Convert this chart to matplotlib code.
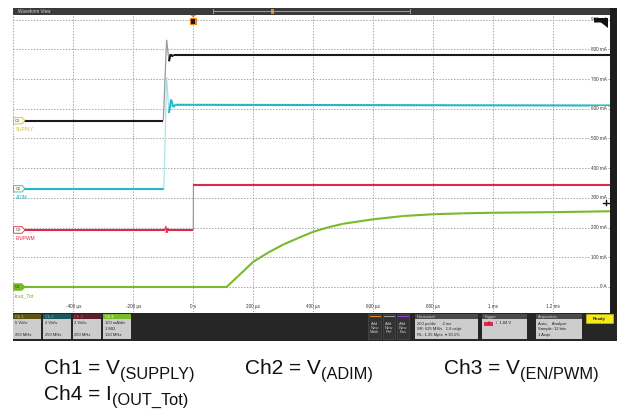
import matplotlib
matplotlib.use('Agg')
import matplotlib.pyplot as plt
from matplotlib.patches import Rectangle, Polygon
from matplotlib.collections import LineCollection
import numpy as np

plt.rcParams['font.family'] = ['Liberation Sans', 'DejaVu Sans']

# ---- data ----
# time in microseconds
t_supply = [-600, -100, -89, -81, -76, -72, -65, 1390]
v_supply = [0.0, 0.0, 13.6, 10.0, 11.2, 10.8, 11.1, 11.1]          # V

t_adim = [-600, -98, -89, -81, -74, -67, -60, 1390]
v_adim = [0.0, 0.0, 7.5, 5.1, 6.0, 5.5, 5.65, 5.6]                  # V

t_en = [-600, -93, -91, -89, -87, -84, 0, 0.5, 1390]
v_en = [0.0, 0.0, 0.25, -0.2, 0.1, 0.0, 0.0, 3.0, 3.0]              # V

t_iout = [-600, 111, 150, 200, 250, 300, 350, 400, 450, 500, 600, 700, 800, 900, 1000, 1200, 1390]
i_iout = [0, 0, 37, 85, 116, 143, 165, 186, 201, 213, 228, 239, 245, 248, 250, 252, 255]  # mA

# channel setup: units per division and ground marker position (divisions)
ch_scale = [5, 2, 2, 100]
ch_offset = [5.6, 3.31, 1.92, 0.0]
ch_color = ['#1a1a1a', '#22b8c4', '#e0284a', '#7ab929']
ch_edge = ['#9a9a9a', '#a8e4ea', '#9a9a9a', '#7ab929']
ch_label = ['SUPPLY', 'ADIM', 'EN/PWM', 'Iout_Tot']
ch_label_color = ['#c9c030', '#22b8c4', '#e0284a', '#7ab929']
trig_level = 1.84  # V on Ch3

time_ticks = [-400, -200, 0, 200, 400, 600, 800, 1000, 1200]
time_labels = ['-400 µs', '-200 µs', '0 s', '200 µs', '400 µs', '600 µs', '800 µs', '1 ms', '1.2 ms']
amp_labels = ['0 A', '100 mA', '200 mA', '300 mA', '400 mA', '500 mA', '600 mA', '700 mA', '800 mA', '900 mA']

caption_main = ['Ch1 = V', 'Ch2 = V', 'Ch3 = V', 'Ch4 = I']
caption_sub = ['(SUPPLY)', '(ADIM)', '(EN/PWM)', '(OUT_Tot)']

W, H = 630, 413
fig = plt.figure(figsize=(W / 100, H / 100), dpi=100)

# ---- waveform area ----
ax = fig.add_axes([13 / W, 1 - 312 / H, 597 / W, 297 / H])
ax.set_xlim(-601, 1389)
ax.set_ylim(-0.842, 9.158)
ax.set_xticks([])
ax.set_yticks([])
for s in ax.spines.values():
    s.set_visible(False)

for t in range(-600, 1400, 200):
    ax.axvline(t, color='#a8a8a8', lw=0.7, ls=(0, (1.5, 1.5)), zorder=1)
for d in range(10):
    ax.axhline(d, color='#a8a8a8', lw=0.7, ls=(0, (1.5, 1.5)), zorder=1)

traces = [(t_supply, v_supply), (t_adim, v_adim), (t_en, v_en), (t_iout, i_iout)]
for k in [3, 2, 1, 0]:
    t, v = traces[k]
    y = ch_offset[k] + np.array(v, dtype=float) / ch_scale[k]
    t = np.array(t, dtype=float)
    pts = np.column_stack([t, y])
    segs = np.stack([pts[:-1], pts[1:]], axis=1)
    slope = np.abs(np.diff(y)) / np.maximum(np.diff(t), 1e-6)
    steep = slope > 0.08
    cols = [ch_edge[k] if s else ch_color[k] for s in steep]
    lws = [0.9 if s else 1.5 for s in steep]
    ax.add_collection(LineCollection(segs, colors=cols, linewidths=lws, zorder=3,
                                     capstyle='butt', joinstyle='round'))

for t, lab in zip(time_ticks, time_labels):
    ax.text(t, -0.64, lab, fontsize=3.3, color='#333333', ha='center', va='center')

for d, lab in enumerate(amp_labels):
    ax.text(0.995, d, lab, transform=ax.get_yaxis_transform(), fontsize=3.3,
            color='#333333', ha='right', va='center',
            bbox=dict(boxstyle='square,pad=0.15', fc='white', ec='none'), zorder=4)

# ---- overlay in pixel coordinates ----
ov = fig.add_axes([0, 0, 1, 1], zorder=5)
ov.set_xlim(0, W)
ov.set_ylim(H, 0)
ov.axis('off')
ov.patch.set_visible(False)


def ypx(div):
    return H - ax.transData.transform((0, div))[1]


def xpx(t):
    return ax.transData.transform((t, 0))[0]


# header bar
ov.add_patch(Rectangle((13, 7.5), 604, 7.5, fc='#3a3a3a', ec='none'))
ov.text(17.5, 11.3, 'Waveform View', fontsize=3.3, color='#d8d8d8', va='center')
ov.plot([213, 410], [11, 11], color='#b0b0b0', lw=0.6)
ov.plot([213, 213], [9, 13], color='#b0b0b0', lw=0.6)
ov.plot([410, 410], [9, 13], color='#b0b0b0', lw=0.6)
ov.add_patch(Rectangle((270.5, 8.5), 3.5, 5, fc='#e08a1e', ec='none'))

# right frame strip
ov.add_patch(Rectangle((610, 7.5), 7, 333, fc='#1c1c1c', ec='none'))

# trigger position marker
tx = xpx(0)
ov.add_patch(Polygon([(tx - 3, 15), (tx + 3, 15), (tx, 17.5)], fc='#e08a1e', ec='none'))
ov.add_patch(Rectangle((tx - 3.5, 17.5), 7, 7.5, fc='#e08a1e', ec='none'))
ov.add_patch(Rectangle((tx - 2, 19), 4, 4.5, fc='#1a1a1a', ec='none'))

# top-right off-screen flag and trigger level arrow
ov.add_patch(Polygon([(594, 18), (608, 18), (608, 28), (601, 22.5), (594, 22.5)],
                     fc='#111111', ec='none'))
ty = ypx(ch_offset[2] + trig_level / ch_scale[2])
ov.plot([603, 609], [ty, ty], color='#111111', lw=1.0)
ov.plot([606, 606], [ty - 2.5, ty + 2.5], color='#111111', lw=1.0)

# channel badges and names
for k in range(4):
    y = ypx(ch_offset[k])
    fc = ch_color[k] if k == 3 else '#fbfbf0'
    ec = ch_label_color[k]
    ov.add_patch(Polygon([(13.5, y - 3.3), (22, y - 3.3), (25, y), (22, y + 3.3), (13.5, y + 3.3)],
                         fc=fc, ec=ec, lw=0.6))
    ov.text(17.8, y + 0.2, 'C%d' % (k + 1), fontsize=2.8, color='#333333', ha='center', va='center')
    ov.text(14.5 if k == 3 else 16, y + 9, ch_label[k], fontsize=4.0 if k == 3 else 3.4,
            color=ch_label_color[k], va='center')

# bottom settings bar
ov.add_patch(Rectangle((13, 313), 604, 28, fc='#262626', ec='none'))

ch_boxes = [(13.3, 'Ch 1', '#5c5217', '#e6d84a', ['5 V/div', '', '250 MHz']),
            (43.3, 'Ch 2', '#1d575c', '#3fd0da', ['2 V/div', '', '250 MHz']),
            (72.7, 'Ch 3', '#5a1f2a', '#ff4d6a', ['2 V/div', '', '250 MHz']),
            (103.3, 'Ch 4', '#7ab929', '#ffffff', ['100 mA/div', '1 MΩ', '120 MHz'])]
for x0, name, hc, tc, lines in ch_boxes:
    ov.add_patch(Rectangle((x0, 314.3), 28, 5, fc=hc, ec='none'))
    ov.add_patch(Rectangle((x0, 319.3), 28, 20, fc='#cdcdcd', ec='none'))
    ov.text(x0 + 1.5, 316.9, name, fontsize=3.0, color=tc, va='center')
    for j, ln in enumerate(lines):
        ov.text(x0 + 1.5, 323.5 + j * 5.6, ln, fontsize=3.0, color='#222222', va='center')

for x0, bar in [(368.3, '#e08a1e'), (382.5, '#9a9a9a'), (396.7, '#9b3fc8')]:
    ov.add_patch(Rectangle((x0, 314.3), 12.7, 25, fc='#333333', ec='#555555', lw=0.4))
    ov.plot([x0 + 1.5, x0 + 11.2], [316.2, 316.2], color=bar, lw=0.8)
for x0, name in [(368.3, 'Math'), (382.5, 'Ref'), (396.7, 'Bus')]:
    ov.text(x0 + 6.35, 328, 'Add\nNew\n' + name, fontsize=3.0, color='#c8c8c8',
            ha='center', va='center', linespacing=1.0)

info_boxes = [(415, 63.3, 'Horizontal',
               ['200 µs/div      2 ms', 'SR: 625 MS/s   1.6 ns/pt', 'RL: 1.25 Mpts  ▾ 30.1%']),
              (481.7, 45, 'Trigger', ['', '', '']),
              (535.7, 46, 'Acquisition', ['Auto,    Analyze', 'Sample: 12 bits', '1 Acqs'])]
for x0, w, name, lines in info_boxes:
    ov.add_patch(Rectangle((x0, 314.3), w, 5, fc='#4a4a4a', ec='none'))
    ov.add_patch(Rectangle((x0, 319.3), w, 20, fc='#cdcdcd', ec='none'))
    ov.text(x0 + 2, 316.9, name, fontsize=3.0, color='#d0d0d0', va='center')
    for j, ln in enumerate(lines):
        if ln:
            ov.text(x0 + 2, 323.5 + j * 5.6, ln, fontsize=3.0, color='#222222', va='center')
ov.add_patch(Rectangle((484, 321.5), 9, 4, fc='#e0284a', ec='none'))
ov.text(488.5, 323.5, '3', fontsize=2.6, color='#222222', ha='center', va='center')
ov.text(496, 323.5, '/  1.84 V', fontsize=3.0, color='#222222', va='center')

ov.add_patch(Rectangle((586, 314.3), 27, 9, fc='#f2ea1a', ec='#d0c810', lw=0.4))
ov.text(599.5, 318.8, 'Ready', fontsize=3.2, color='#222222', ha='center', va='center',
        fontweight='bold')

# ---- caption ----
cap_pos = [(44, 374), (245, 374), (444, 374), (44, 400)]
renderer = fig.canvas.get_renderer()
for (x, y), main, sub in zip(cap_pos, caption_main, caption_sub):
    txt = ov.text(x, y, main, fontsize=15, color='#111111', va='baseline')
    bb = txt.get_window_extent(renderer)
    ov.text(bb.x1 + 0.5, y + 4.5, sub, fontsize=11.8, color='#111111', va='baseline')

fig.savefig('out.png', dpi=100)
